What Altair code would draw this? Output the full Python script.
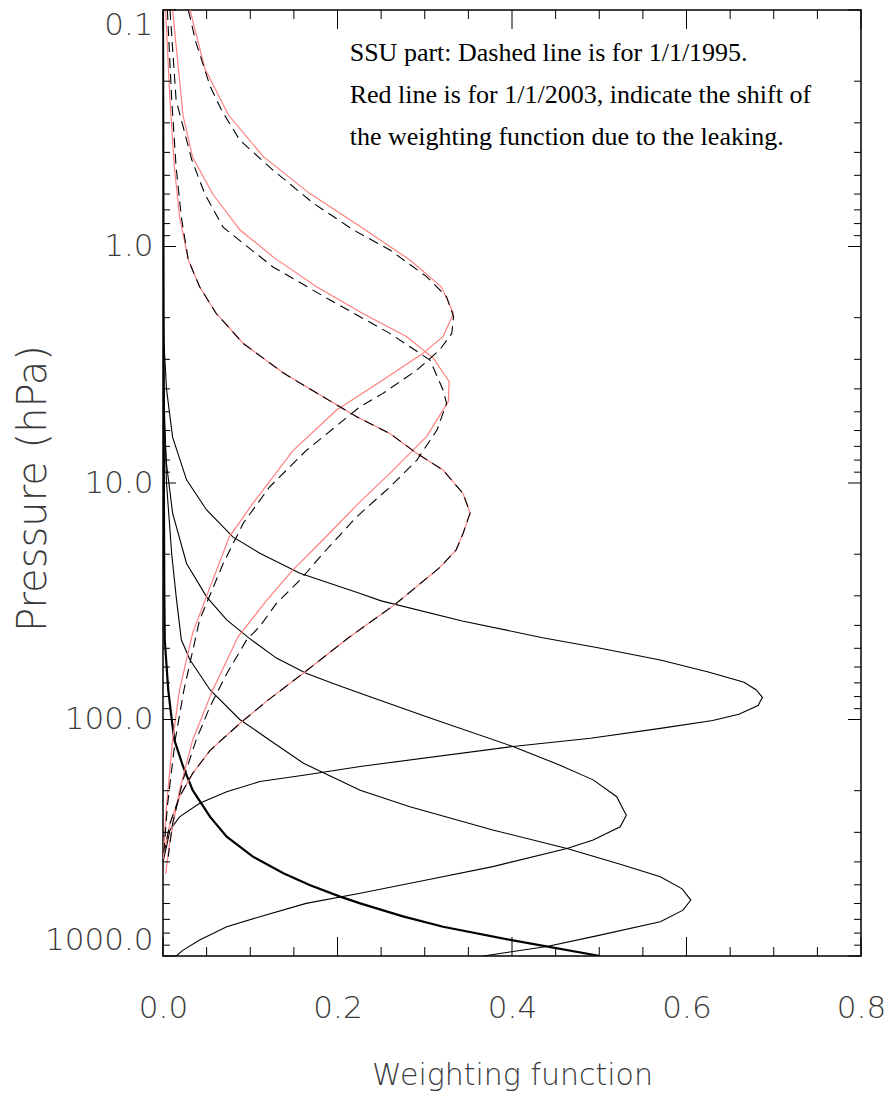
import altair as alt
import pandas as pd

# ---------------- data (pressure in hPa, weighting function) ----------------
c0_p = [0.1, 1, 10, 30, 46, 75, 100, 122, 158, 199, 258, 313, 380, 447, 501, 561, 599, 680, 752, 855, 1000]
c0_w = [0.0, 0.0005, 0.001, 0.0015, 0.002, 0.006, 0.010, 0.013, 0.023, 0.034, 0.054, 0.073, 0.103, 0.138,
        0.168, 0.203, 0.226, 0.275, 0.321, 0.398, 0.501]

c1_p = [1.5, 2.5, 4.0, 6.4, 9.7, 13, 16.9, 19.8, 24.1, 29.3, 31.5, 38.3, 45.1, 49.6, 56, 63, 69.6, 75, 80.6,
        87.3, 95, 101, 109, 120, 130, 158, 172, 183, 202, 226, 258, 293, 345, 400]
c1_w = [0.0, 0.001, 0.004, 0.011, 0.027, 0.05, 0.08, 0.111, 0.157, 0.226, 0.25, 0.343, 0.435, 0.497, 0.57,
        0.625, 0.666, 0.68, 0.687, 0.682, 0.66, 0.63, 0.57, 0.49, 0.401, 0.226, 0.161, 0.111, 0.073, 0.042,
        0.019, 0.008, 0.004, 0.0]

c2_p = [1.0, 5.0, 8.3, 13.4, 21.9, 30.3, 37.9, 45.4, 55, 63.8, 70.4, 77.5, 97.3, 130, 156, 180, 212, 254, 284,
        323, 351, 419, 477, 543, 599, 682, 752, 855, 944, 1000]
c2_w = [0.0, 0.001, 0.004, 0.011, 0.027, 0.05, 0.073, 0.099, 0.13, 0.164, 0.195, 0.226, 0.302, 0.401, 0.455,
        0.493, 0.52, 0.531, 0.524, 0.493, 0.463, 0.378, 0.302, 0.226, 0.164, 0.111, 0.073, 0.042, 0.023, 0.015]

c3_p = [3, 10, 20, 30, 46, 56, 75, 100, 122, 153, 199, 234, 293, 351, 410, 462, 520, 580, 640, 716, 828, 912, 1000]
c3_w = [0.0, 0.004, 0.01, 0.015, 0.021, 0.031, 0.054, 0.088, 0.122, 0.161, 0.226, 0.283, 0.378, 0.463, 0.525,
        0.57, 0.595, 0.605, 0.596, 0.57, 0.493, 0.44, 0.367]

# SSU channel 1 (1995 dashed / 2003 red)
r1_p = [0.1, 0.24, 0.46, 0.75, 1.14, 1.48, 1.92, 2.57, 3.43, 4.31, 5.25, 6.17, 7.5, 8.81, 11.1, 13.4, 16.3,
        19.2, 22.8, 32.6, 45, 64, 83, 104, 135, 169, 212, 275, 355]
r1_w = [0.003, 0.008, 0.013, 0.019, 0.029, 0.042, 0.061, 0.092, 0.138, 0.183, 0.222, 0.26, 0.291, 0.321, 0.344,
        0.352, 0.344, 0.336, 0.317, 0.266, 0.213, 0.16, 0.12, 0.088, 0.054, 0.034, 0.019, 0.008, 0.002]
d1_p = r1_p
d1_w = [0.005, 0.010, 0.015, 0.021, 0.029, 0.042, 0.061, 0.092, 0.138, 0.183, 0.222, 0.26, 0.291, 0.321, 0.344,
        0.352, 0.344, 0.336, 0.317, 0.266, 0.213, 0.16, 0.12, 0.088, 0.054, 0.034, 0.019, 0.008, 0.002]

# SSU channel 2
r2_p = [0.1, 0.28, 0.42, 0.6, 0.85, 1.12, 1.48, 1.92, 2.40, 2.97, 3.73, 4.53, 6.37, 9.1, 12.2, 17, 23.3, 31.3,
        44.7, 75, 122, 199, 325, 450]
r2_w = [0.011, 0.023, 0.034, 0.057, 0.088, 0.128, 0.176, 0.229, 0.279, 0.310, 0.328, 0.327, 0.302, 0.26, 0.224,
        0.186, 0.149, 0.119, 0.086, 0.057, 0.034, 0.019, 0.008, 0.003]
d2_p = [0.1, 0.24, 0.43, 0.6, 0.83, 1.22, 1.68, 2.33, 3.02, 4.04, 4.6, 5.97, 8.0, 10.4, 13.9, 19.2, 25.7, 32.3,
        40.4, 46, 64, 88, 122, 180, 275, 380]
d2_w = [0.008, 0.015, 0.033, 0.048, 0.069, 0.126, 0.191, 0.26, 0.306, 0.321, 0.325, 0.314, 0.291, 0.26, 0.222,
        0.187, 0.157, 0.13, 0.111, 0.096, 0.073, 0.054, 0.038, 0.023, 0.011, 0.006]

# SSU channel 3
r3_p = [0.1, 0.177, 0.278, 0.417, 0.596, 0.824, 1.14, 1.48, 1.92, 2.40, 2.83, 3.67, 4.91, 7.3, 12.2, 16.9, 27.5,
        43, 75, 122, 233, 400]
r3_w = [0.031, 0.048, 0.075, 0.115, 0.168, 0.226, 0.283, 0.319, 0.333, 0.321, 0.298, 0.252, 0.199, 0.149, 0.103,
        0.076, 0.054, 0.034, 0.019, 0.011, 0.004, 0.0]
d3_p = [0.1, 0.138, 0.21, 0.265, 0.355, 0.475, 0.655, 0.85, 1.035, 1.34, 1.63, 1.98, 2.33, 2.74, 3.33, 4.18, 4.75,
        7.3, 10.4, 14.8, 21.9, 37.9, 75, 122, 233, 400]
d3_w = [0.029, 0.038, 0.054, 0.067, 0.088, 0.126, 0.172, 0.218, 0.26, 0.302, 0.325, 0.333, 0.331, 0.317, 0.291,
        0.252, 0.226, 0.164, 0.122, 0.092, 0.069, 0.042, 0.024, 0.014, 0.005, 0.0]

# axis ticks
x_major = [0.0, 0.2, 0.4, 0.6, 0.8]
x_minor = [0.05, 0.1, 0.15, 0.25, 0.3, 0.35, 0.45, 0.5, 0.55, 0.65, 0.7, 0.75]
y_major = [0.1, 1, 10, 100, 1000]
y_minor = [k * d for d in [0.1, 1, 10, 100] for k in range(2, 10)]

notes = ["SSU part: Dashed line is for 1/1/1995.",
         "Red line is for 1/1/2003, indicate the shift of",
         "the weighting function due to the leaking."]

# ---------------- build ----------------
W, H = 698, 946
LABEL_FONT = "DejaVu Sans"
TXT = "#3a3a3a"

xs = alt.Scale(domain=[0, 0.8], nice=False, zero=False)
ys = alt.Scale(type="log", domain=[0.1, 1000], reverse=True, nice=False)

xaxis = alt.Axis(values=x_major, format=".1f", ticks=False, grid=False, domain=False,
                 labelFont=LABEL_FONT, labelFontSize=31, labelFontWeight=200, labelColor=TXT,
                 labelPadding=37, labelFlush=False,
                 title="Weighting function", titleFont=LABEL_FONT, titleFontSize=30,
                 titleFontWeight=200, titleColor=TXT, titleY=119, titleBaseline="middle")
yaxis = alt.Axis(values=y_major, format=".1f", ticks=False, grid=False, domain=False,
                 labelFont=LABEL_FONT, labelFontSize=31, labelFontWeight=200, labelColor=TXT,
                 labelPadding=10, labelFlush=True,
                 title="Pressure (hPa)", titleFont=LABEL_FONT, titleFontSize=40,
                 titleFontWeight=200, titleColor=TXT, titleX=-130, titleY=478,
                 titleAngle=270, titleAlign="center", titleBaseline="middle")


def X():
    return alt.X("w:Q", scale=xs, axis=xaxis)


def Y():
    return alt.Y("p:Q", scale=ys, axis=yaxis)


def frame(names, ps, ws):
    rows = []
    for n, p, w in zip(names, ps, ws):
        for i, (pp, ww) in enumerate(zip(p, w)):
            rows.append({"curve": n, "idx": i, "p": pp, "w": ww})
    return pd.DataFrame(rows)


def lines(df, **mk):
    return alt.Chart(df).mark_line(clip=True, **mk).encode(
        x=X(), y=Y(), detail="curve:N", order=alt.Order("idx:Q"))


thin = lines(frame(["c1", "c2", "c3"], [c1_p, c2_p, c3_p], [c1_w, c2_w, c3_w]),
             color="black", strokeWidth=1.1)
thick = lines(frame(["c0"], [c0_p], [c0_w]), color="black", strokeWidth=2.2)
red = lines(frame(["r1", "r2", "r3"], [r1_p, r2_p, r3_p], [r1_w, r2_w, r3_w]),
            color="#ff7f7f", strokeWidth=1.2)
dashed = lines(frame(["d1", "d2", "d3"], [d1_p, d2_p, d3_p], [d1_w, d2_w, d3_w]),
               color="black", strokeWidth=1.1, strokeDash=[10, 6])


def xticks(vals, y0, y1):
    return alt.Chart(pd.DataFrame({"w": vals})).mark_rule(color="black", strokeWidth=1).encode(
        x=X(), y=alt.value(y0), y2=alt.value(y1))


def yticks(vals, x0, x1):
    return alt.Chart(pd.DataFrame({"p": vals})).mark_rule(color="black", strokeWidth=1).encode(
        y=Y(), x=alt.value(x0), x2=alt.value(x1))


tick_layers = [
    xticks(x_major, 0, 19), xticks(x_minor, 0, 9),
    xticks(x_major, H, H - 19), xticks(x_minor, H, H - 9),
    yticks(y_major, 0, 13), yticks(y_minor, 0, 7),
    yticks(y_major, W, W - 13), yticks(y_minor, W, W - 7),
]

text_layers = []
for i, line in enumerate(notes):
    text_layers.append(
        alt.Chart(pd.DataFrame({"t": [line]})).mark_text(
            align="left", baseline="alphabetic", font="Liberation Serif", fontSize=26, color="black"
        ).encode(text="t:N", x=alt.value(186.7), y=alt.value([51, 93, 135][i]))
    )

chart = alt.layer(thin, thick, red, dashed, *tick_layers, *text_layers).properties(
    width=W, height=H,
    padding={"left": 163, "top": 10, "right": 31, "bottom": 146},
    autosize=alt.AutoSizeParams(type="none"),
    background="white",
).configure_view(stroke="black", strokeWidth=1.5)

chart.save("out.html", embed_options={"renderer": "svg", "actions": False})
